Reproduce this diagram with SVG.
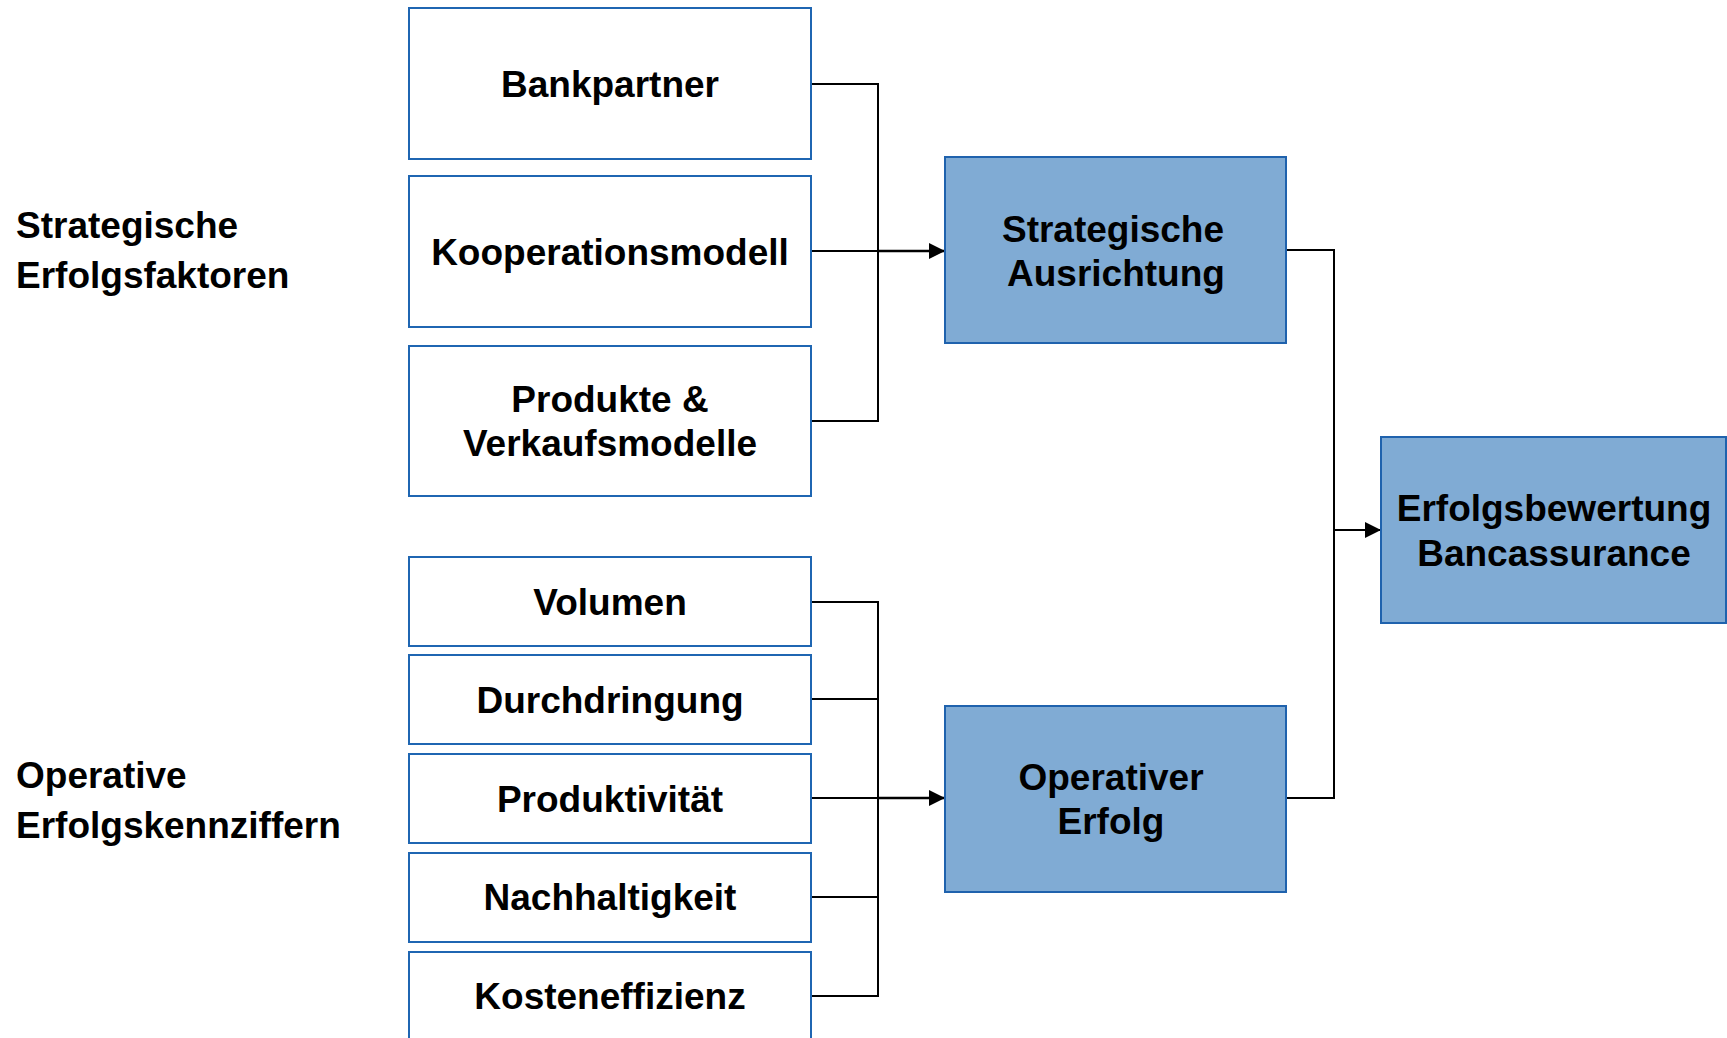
<svg xmlns="http://www.w3.org/2000/svg" width="1727" height="1038" viewBox="0 0 1727 1038">
<style>
.box{fill:#ffffff;stroke:#1f66b2;stroke-width:2}
.dark{fill:#80abd4;stroke:#1f62ad;stroke-width:2}
.t{font-family:"Liberation Sans",Arial,sans-serif;font-weight:bold;font-size:37px;fill:#000;text-anchor:middle}
.lbl{font-family:"Liberation Sans",Arial,sans-serif;font-weight:bold;font-size:37px;fill:#000}
.c{fill:none;stroke:#000;stroke-width:2}
.a{fill:none;stroke:#000;stroke-width:2.6}
</style>
<defs>
<marker id="arr" markerUnits="userSpaceOnUse" markerWidth="18" markerHeight="18" refX="16" refY="8" orient="auto">
<path d="M0,0 L16,8 L0,16 z" fill="#000"/>
</marker>
</defs>
<rect width="1727" height="1038" fill="#ffffff"/>
<g id="label-strategisch">
<text class="lbl" x="16" y="238">Strategische</text>
<text class="lbl" x="16" y="288">Erfolgsfaktoren</text>
</g>
<g id="label-operativ">
<text class="lbl" x="16" y="788">Operative</text>
<text class="lbl" x="16" y="838">Erfolgskennziffern</text>
</g>
<g id="connectors">
<path class="c" d="M811,84 H878 V421 H811"/>
<path class="c" d="M811,251 H878"/>
<path class="a" d="M878,251 H945" marker-end="url(#arr)"/>
<path class="c" d="M811,602 H878 V996 H811"/>
<path class="c" d="M811,699 H878"/>
<path class="c" d="M811,897 H878"/>
<path class="c" d="M811,798 H878"/>
<path class="a" d="M878,798 H945" marker-end="url(#arr)"/>
<path class="c" d="M1286,250 H1334 V798 H1286"/>
<path class="c" d="M1334,530 H1381" marker-end="url(#arr)"/>
</g>
<g id="bankpartner">
<rect class="box" x="409" y="8" width="402" height="151"/>
<text class="t" x="610" y="97">Bankpartner</text>
</g>
<g id="kooperationsmodell">
<rect class="box" x="409" y="176" width="402" height="151"/>
<text class="t" x="610" y="265">Kooperationsmodell</text>
</g>
<g id="produkte">
<rect class="box" x="409" y="346" width="402" height="150"/>
<text class="t" x="610" y="412">Produkte &amp;</text>
<text class="t" x="610" y="456">Verkaufsmodelle</text>
</g>
<g id="volumen">
<rect class="box" x="409" y="557" width="402" height="89"/>
<text class="t" x="610" y="615">Volumen</text>
</g>
<g id="durchdringung">
<rect class="box" x="409" y="655" width="402" height="89"/>
<text class="t" x="610" y="713">Durchdringung</text>
</g>
<g id="produktivitaet">
<rect class="box" x="409" y="754" width="402" height="89"/>
<text class="t" x="610" y="812">Produktivität</text>
</g>
<g id="nachhaltigkeit">
<rect class="box" x="409" y="853" width="402" height="89"/>
<text class="t" x="610" y="910">Nachhaltigkeit</text>
</g>
<g id="kosteneffizienz">
<rect class="box" x="409" y="952" width="402" height="100"/>
<text class="t" x="610" y="1009">Kosteneffizienz</text>
</g>
<g id="strategische-ausrichtung">
<rect class="dark" x="945" y="157" width="341" height="186"/>
<text class="t" x="1113" y="242">Strategische</text>
<text class="t" x="1116" y="286">Ausrichtung</text>
</g>
<g id="operativer-erfolg">
<rect class="dark" x="945" y="706" width="341" height="186"/>
<text class="t" x="1111" y="790">Operativer</text>
<text class="t" x="1111" y="834">Erfolg</text>
</g>
<g id="erfolgsbewertung">
<rect class="dark" x="1381" y="437" width="345" height="186"/>
<text class="t" x="1554" y="521">Erfolgsbewertung</text>
<text class="t" x="1554" y="566">Bancassurance</text>
</g>
</svg>
